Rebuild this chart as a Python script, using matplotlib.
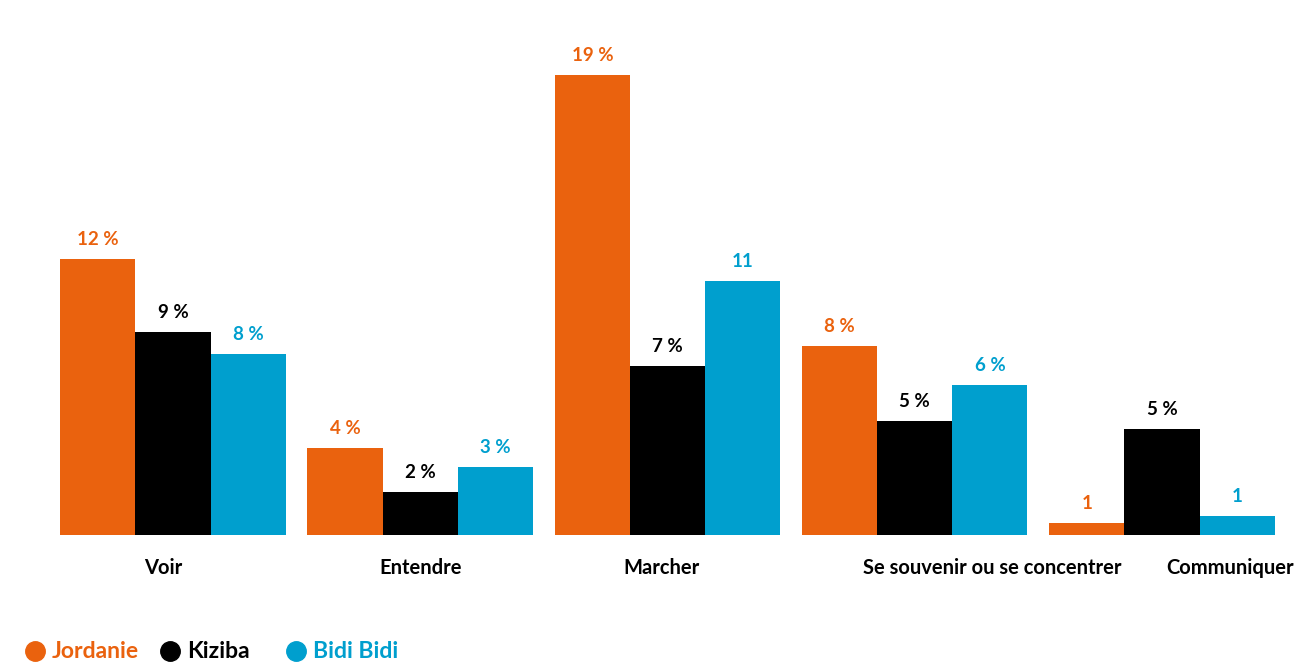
import matplotlib.pyplot as plt
from matplotlib.lines import Line2D
import numpy as np

plt.rcParams['font.family'] = ['Lato', 'DejaVu Sans']
plt.rcParams['font.weight'] = 'bold'

# donnees
categories = ["Voir", "Entendre", "Marcher", "Se souvenir ou se concentrer", "Communiquer"]
series = ["Jordanie", "Kiziba", "Bidi Bidi"]
jordanie = [11.4, 3.6, 19.0, 7.8, 0.5]
kiziba = [8.4, 1.8, 7.0, 4.7, 4.4]
bidibidi = [7.5, 2.8, 10.5, 6.2, 0.8]
lab_jordanie = ["12 %", "4 %", "19 %", "8 %", "1"]
lab_kiziba = ["9 %", "2 %", "7 %", "5 %", "5 %"]
lab_bidibidi = ["8 %", "3 %", "11", "6 %", "1"]

colors = ['#EA620E', '#000000', '#009FCE']
cat_shift = [-0.04, 0.0, -0.025, 0.315, 0.275]  # decalage des etiquettes comme dans l'original

fig = plt.figure(figsize=(12.94, 6.64), dpi=100)
ax = fig.add_axes([0, 0.194, 1, 0.806])

x = np.arange(len(categories))
w = 0.304
values = [jordanie, kiziba, bidibidi]
labels = [lab_jordanie, lab_kiziba, lab_bidibidi]
for i, (vals, labs, c) in enumerate(zip(values, labels, colors)):
    pos = x + (i - 1) * w
    ax.bar(pos, vals, width=w, color=c)
    for px, v, t in zip(pos, vals, labs):
        ax.annotate(t, (px, v), xytext=(0, 10), textcoords='offset points',
                    ha='center', va='baseline', fontsize=13.5, color=c, fontweight='bold')

for xi, name, s in zip(x, categories, cat_shift):
    ax.annotate(name, (xi + s, 0), xytext=(0, -28), textcoords='offset points',
                ha='center', va='baseline', fontsize=14.5, fontweight='bold')

ax.set_xlim(-0.6997, 4.534)
ax.set_ylim(0, 22.1)
ax.axis('off')

# legende : pastilles + texte colore
leg_x = [35, 170, 296]  # position des pastilles en pixels
leg_y = 1 - 651 / 664
W = 1294
for lx, name, c in zip(leg_x, series, colors):
    fig.add_artist(Line2D([lx / W], [leg_y], marker='o', markersize=14, color=c,
                          linestyle='', transform=fig.transFigure))
    fig.text((lx + 17) / W, leg_y, name, color=c, fontsize=16.5, fontweight='bold',
             ha='left', va='center')

fig.savefig('out.png', dpi=100)
